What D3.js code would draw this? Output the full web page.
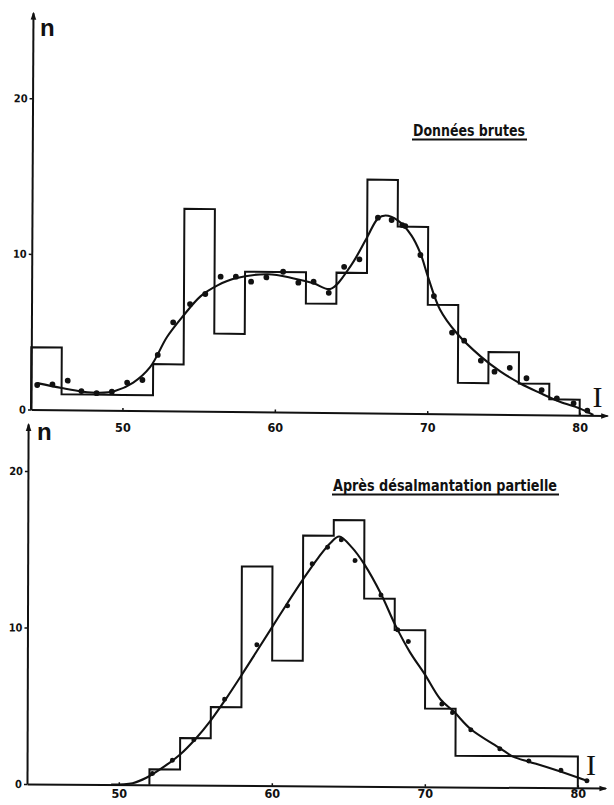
<!DOCTYPE html>
<html><head><meta charset="utf-8">
<script src="https://cdn.jsdelivr.net/npm/d3@7"></script>
<style>
html,body{margin:0;padding:0;background:#fff;}
svg{display:block;}
.tick text{font-family:"Liberation Sans Narrow","DejaVu Sans Condensed","Liberation Sans",sans-serif;font-weight:bold;font-size:12px;fill:#111;}
</style>
</head><body>
<svg id="c" width="614" height="805"></svg>
<script>
// ---------- DATA ----------
const binWidth = 2;
// top panel : "Données brutes"
const topBinStart = 44;
const topCounts = [4,1,1,1,3,13,5,9,9,7,9,15,12,7,2,4,2,1];
const topDotX = [44.4,45.4,46.4,47.3,48.3,49.3,50.3,51.3,52.3,53.3,54.4,55.4,56.4,57.4,58.4,59.4,60.5,61.5,62.5,63.5,64.5,65.5,66.7,67.6,68.3,68.5,69.5,70.4,71.6,72.4,73.5,74.4,75.4,76.5,77.5,78.5,79.6,80.5];
const topDotN = [1.58,1.63,1.88,1.22,1.09,1.2,1.79,1.97,3.59,5.7,6.88,7.54,8.66,8.67,8.36,8.65,9.02,8.33,8.4,7.7,9.38,9.87,12.56,12.42,12.1,12.04,10.19,7.56,5.22,4.71,3.44,2.74,3.0,2.34,1.59,1.07,0.76,0.3];
const topCurveX = [44.4,46,47.4,48.5,49.5,50.7,51.8,52.9,53.9,55.1,56.2,57.3,59.5,61.2,62.5,63.6,64.9,66,66.7,67.2,68,68.9,69.5,70,70.8,71.9,73.5,74.8,76.1,77.4,78.7,80,80.9];
const topCurveN = [1.7,1.4,1.18,1.12,1.25,1.8,2.8,4.75,6.05,7.4,8.1,8.55,8.85,8.6,8.3,7.95,9.4,11.3,12.5,12.7,12.4,11.45,10.3,8.8,6.7,5.2,3.7,2.75,2.0,1.4,0.85,0.44,0.02];
// bottom panel : "Après désalmantation partielle"
const botBinStart = 52;
const botCounts = [1,3,5,14,8,16,17,12,10,5,2,2,2,2];
const botDotX = [52.2,53.5,54.9,56.9,59.0,61.0,62.6,63.6,64.5,65.4,67.1,68.2,68.9,71.1,71.8,73.0,74.9,76.8,78.9,80.6];
const botDotN = [0.73,1.58,2.9,5.5,9.0,11.5,14.2,15.26,15.75,14.43,12.23,10.02,9.28,5.29,4.76,3.66,2.47,1.7,1.12,0.46];
const botCurveX = [49.5,50.9,51.8,53,54,55,56,57,58,59,60,61,62,63,63.8,64.35,65.2,66,67.1,68.05,69,69.97,71,71.9,73,74.9,75.8,76.8,78,79.9,80.6];
const botCurveN = [0,0.1,0.45,1.2,1.95,2.95,4.15,5.55,7.05,8.6,10.15,11.7,13.2,14.6,15.55,15.95,15.25,14.2,12.3,10.3,8.6,7.2,5.6,4.8,3.7,2.5,1.95,1.65,1.3,0.7,0.46];
const yTicks = [0,10,20];
const xTicks = [50,60,70,80];
const xTickLabels = ["50","60","70","80"];
const titleTop = "Données brutes";
const titleBot = "Après désalmantation partielle";
const yLabel = "n";
const xLabel = "I";

// ---------- DRAW ----------
const svg = d3.select("#c");
const ink = "#111";
const defs = svg.append("defs");
defs.append("marker").attr("id","arr").attr("viewBox","0 0 10 10")
  .attr("refX",8).attr("refY",5).attr("markerWidth",4).attr("markerHeight",4)
  .attr("orient","auto").attr("markerUnits","strokeWidth")
  .append("path").attr("d","M0,1.5L10,5L0,8.5Z").attr("fill",ink);

function stepPoints(start, counts){
  const pts = [[start,0]];
  counts.forEach((c,i)=>{ pts.push([start+i*binWidth,c]); pts.push([start+(i+1)*binWidth,c]); });
  pts.push([start+counts.length*binWidth,0]);
  return pts;
}

function panel(cfg){
  const x = d3.scaleLinear().domain([44,81.8]).range([cfg.x0, cfg.x0 + 37.8*cfg.kx]);
  const y = d3.scaleLinear().domain([0,cfg.ymax]).range([cfg.y0, cfg.y0 - cfg.ymax*cfg.ky]);
  const g = svg.append("g")
    .attr("transform",`translate(${cfg.x0},${cfg.y0}) matrix(1,${cfg.sy},${cfg.sx},1,0,0) translate(${-cfg.x0},${-cfg.y0})`);

  // y axis
  const ya = g.append("g").attr("transform",`translate(${x(44)},0)`)
    .call(d3.axisLeft(y).tickValues(yTicks).tickSizeInner(3).tickSizeOuter(0).tickPadding(cfg.ypad));
  ya.select(".domain").attr("stroke",ink).attr("stroke-width",2).attr("marker-end","url(#arr)");
  ya.selectAll(".tick line").attr("stroke",ink).attr("stroke-width",1.5);
  ya.selectAll(".tick text").style("font-size","11px");

  // x axis line
  const xa = g.append("g").attr("transform",`translate(0,${y(0)})`)
    .call(d3.axisBottom(x).tickValues(xTicks).tickSizeInner(-2.5).tickSizeOuter(0).tickFormat(""));
  xa.select(".domain").attr("stroke",ink).attr("stroke-width",2).attr("marker-end","url(#arr)");
  xa.selectAll(".tick line").attr("stroke",ink).attr("stroke-width",1.5);

  // histogram outline
  const line = d3.line().x(d=>x(d[0])).y(d=>y(d[1]));
  g.append("path").attr("d", line(stepPoints(cfg.binStart, cfg.counts)))
    .attr("fill","none").attr("stroke",ink).attr("stroke-width",2).attr("stroke-linejoin","miter");

  // smooth curve
  const cpts = cfg.cx.map((v,i)=>[v,cfg.cn[i]]);
  g.append("path").attr("d", d3.line().x(d=>x(d[0])).y(d=>y(d[1])).curve(d3.curveCatmullRom.alpha(0.5))(cpts))
    .attr("fill","none").attr("stroke",ink).attr("stroke-width",2.1);

  // dots
  g.selectAll("circle.dot").data(cfg.dx.map((v,i)=>[v,cfg.dn[i]])).join("circle")
    .attr("class","dot").attr("cx",d=>x(d[0])).attr("cy",d=>y(d[1])).attr("r",cfg.r).attr("fill",ink);

  // x tick labels (not skewed)
  const xl = svg.append("g").attr("transform",`translate(0,${cfg.y0})`)
    .call(d3.axisBottom(x).tickValues(xTicks).tickSize(0).tickPadding(cfg.xpad).tickFormat((d,i)=>xTickLabels[i]));
  xl.select(".domain").remove();
  xl.selectAll(".tick text").style("font-size","12.5px");

  // axis names
  svg.append("text").attr("x",cfg.nX).attr("y",cfg.nY).text(yLabel)
    .attr("font-family","Liberation Sans, Arial, sans-serif").attr("font-weight","bold")
    .attr("font-size",24).attr("fill",ink);
  svg.append("text").attr("x",cfg.iX).attr("y",cfg.iY).text(xLabel).attr("text-anchor","middle")
    .attr("font-family","Liberation Serif, DejaVu Serif, serif").attr("font-size",30).attr("fill",ink);

  // title, underlined
  svg.append("text").attr("x",cfg.tX).attr("y",cfg.tY).text(cfg.title)
    .attr("font-family","Liberation Sans Narrow, DejaVu Sans Condensed, Liberation Sans, sans-serif")
    .attr("font-weight","bold").attr("font-size",cfg.tSize).attr("fill",ink)
    .attr("textLength",cfg.tW).attr("lengthAdjust","spacingAndGlyphs");
  svg.append("line").attr("x1",cfg.tX-1).attr("x2",cfg.tX+cfg.tW+2).attr("y1",cfg.tY+3.5).attr("y2",cfg.tY+3.5)
    .attr("stroke",ink).attr("stroke-width",2);
}

panel({x0:31, y0:409.5, kx:15.24, ky:15.56, ymax:25.5, sy:0.0104, sx:-0.005,
  binStart:topBinStart, counts:topCounts, cx:topCurveX, cn:topCurveN, dx:topDotX, dn:topDotN, r:2.9,
  ypad:2, xpad:13.5, nX:40, nY:36, iX:597.5, iY:407,
  title:titleTop, tX:413, tY:136, tW:112, tSize:16});
panel({x0:27, y0:784, kx:15.3, ky:15.65, ymax:23, sy:0.007, sx:-0.003,
  binStart:botBinStart, counts:botCounts, cx:botCurveX, cn:botCurveN, dx:botDotX, dn:botDotN, r:2.5,
  ypad:2, xpad:5, nX:37, nY:440, iX:591, iY:775,
  title:titleBot, tX:333, tY:491, tW:224, tSize:16});
</script>
</body></html>
